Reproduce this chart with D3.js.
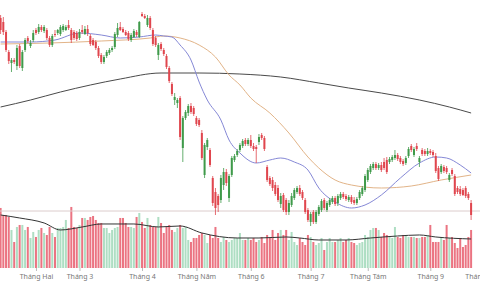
<!DOCTYPE html>
<html>
<head>
<meta charset="utf-8">
<script src="https://cdn.jsdelivr.net/npm/d3@7"></script>
<style>
  body { margin: 0; background: #fff; }
  svg { display: block; }
  .tick text { font-family: 'Noto Sans', Roboto, sans-serif; }
</style>
</head>
<body>
<svg></svg>
<script>
// candles, one per trading day (index 0 = first day shown)
let opens = [1524,1516,1496,1456,1434,1440,1428,1468,1424,1460,1484,1468,1480,1500,1496,1506,1498,1500,1484,1470,
  1492,1494,1492,1500,1500,1510,1500,1496,1494,1484,1500,1492,1502,1488,1480,1476,1464,1450,1436,1448,
  1454,1460,1466,1490,1506,1502,1496,1494,1480,1486,1496,1486,1532,1528,1510,1524,1500,1484,1450,1472,
  1460,1448,1424,1392,1360,1354,1364,1264,1324,1334,1348,1344,1324,1320,1294,1210,1266,1260,1204,1176,
  1168,1160,1190,1216,1164,1210,1240,1250,1260,1268,1280,1272,1280,1268,1266,1276,1290,1284,1226,1204,
  1200,1190,1184,1152,1170,1160,1136,1150,1164,1176,1184,1176,1160,1140,1116,1136,1116,1132,1140,1160,
  1140,1150,1156,1164,1154,1164,1172,1168,1160,1166,1160,1154,1164,1172,1180,1200,1216,1224,1232,1224,
  1230,1236,1240,1236,1240,1244,1250,1244,1238,1234,1248,1268,1250,1268,1236,1260,1258,1252,1258,1256,
  1248,1224,1216,1226,1224,1200,1220,1208,1184,1182,1180,1184,1172,1154]
let highs = [1530,1526,1500,1460,1444,1444,1470,1472,1460,1484,1488,1480,1500,1504,1512,1510,1510,1504,1488,1492,
  1500,1502,1510,1512,1510,1520,1504,1500,1498,1502,1510,1508,1510,1492,1484,1480,1468,1454,1450,1460,
  1464,1468,1496,1514,1516,1506,1500,1498,1494,1502,1500,1518,1536,1532,1530,1528,1504,1488,1474,1476,
  1464,1452,1428,1396,1374,1364,1368,1328,1340,1352,1354,1348,1328,1324,1300,1274,1284,1264,1208,1184,
  1172,1210,1224,1222,1212,1248,1252,1262,1274,1282,1284,1284,1290,1274,1270,1292,1294,1288,1230,1208,
  1206,1196,1190,1174,1174,1164,1160,1174,1184,1188,1190,1180,1164,1144,1136,1140,1140,1150,1162,1164,
  1158,1164,1168,1168,1172,1176,1176,1172,1170,1170,1166,1166,1180,1188,1212,1224,1232,1236,1236,1234,
  1236,1244,1246,1246,1250,1260,1254,1248,1242,1248,1266,1272,1266,1274,1248,1264,1262,1264,1262,1260,
  1254,1228,1232,1230,1228,1214,1224,1212,1188,1188,1184,1188,1176,1160]
let lows = [1492,1490,1456,1432,1416,1432,1420,1424,1418,1456,1474,1464,1476,1490,1492,1496,1494,1480,1466,1466,
  1486,1490,1488,1496,1498,1500,1474,1480,1478,1480,1492,1490,1488,1468,1468,1460,1444,1432,1432,1444,
  1450,1456,1462,1486,1498,1494,1488,1478,1476,1484,1486,1484,1526,1522,1506,1500,1468,1466,1440,1458,
  1448,1422,1394,1368,1350,1344,1280,1236,1320,1328,1332,1328,1308,1306,1240,1204,1260,1226,1148,1130,
  1136,1154,1180,1188,1156,1206,1236,1246,1256,1264,1268,1268,1264,1258,1234,1270,1280,1258,1196,1188,
  1178,1168,1156,1144,1136,1130,1130,1146,1160,1172,1168,1160,1132,1116,1108,1112,1112,1128,1136,1140,
  1136,1146,1152,1148,1148,1160,1162,1158,1156,1152,1150,1150,1160,1168,1176,1196,1212,1220,1220,1220,
  1216,1220,1212,1232,1236,1240,1238,1232,1228,1230,1244,1256,1246,1258,1226,1248,1248,1248,1250,1246,
  1214,1198,1212,1214,1212,1196,1208,1168,1172,1168,1168,1164,1160,1120]
let closes = [1500,1496,1460,1438,1440,1436,1464,1428,1456,1480,1478,1474,1494,1494,1506,1500,1506,1484,1470,1488,
  1490,1500,1506,1508,1506,1504,1480,1484,1482,1496,1496,1502,1494,1472,1470,1464,1448,1436,1446,1456,
  1460,1464,1492,1504,1500,1496,1490,1482,1490,1498,1490,1516,1528,1524,1524,1504,1472,1470,1470,1462,
  1452,1426,1398,1372,1366,1360,1286,1324,1336,1348,1336,1332,1312,1310,1244,1270,1280,1230,1154,1144,
  1150,1204,1216,1194,1208,1244,1248,1258,1270,1278,1272,1280,1268,1262,1262,1286,1284,1262,1200,1192,
  1184,1172,1160,1168,1140,1136,1154,1168,1180,1184,1172,1164,1136,1120,1132,1116,1136,1146,1158,1144,
  1154,1160,1164,1152,1168,1172,1166,1162,1166,1156,1154,1162,1176,1184,1208,1220,1228,1232,1224,1230,
  1220,1224,1216,1242,1246,1250,1242,1236,1232,1244,1262,1260,1262,1262,1244,1252,1252,1258,1254,1250,
  1218,1202,1228,1218,1216,1210,1212,1172,1176,1172,1170,1168,1164,1130]
// volume, million shares
let volumes = [900,795,795,765,570,390,615,645,645,570,615,450,540,465,570,600,525,495,615,525,
  465,600,600,615,720,600,915,615,600,645,750,750,720,765,780,720,675,675,600,600,
  525,570,600,615,750,750,675,615,615,600,765,825,690,600,750,645,615,615,765,675,
  525,615,645,570,540,600,645,600,615,420,390,450,450,495,525,495,375,495,450,615,
  450,390,465,420,390,420,450,450,525,420,420,450,420,450,390,420,465,375,495,450,
  570,420,525,570,495,570,420,540,390,345,450,390,345,495,465,390,345,375,450,270,
  390,450,390,390,420,450,390,420,450,390,375,345,375,390,495,465,570,600,600,570,
  465,525,495,465,450,615,465,450,495,495,465,465,465,450,450,465,465,495,645,390,
  390,390,465,420,645,450,465,375,300,450,315,345,465,570]

// moving averages as [day index, value]
let ma20 = [[0,1476],[11,1476],[20,1480],[29,1494],[37,1490],[44,1484],[51,1486],[57,1490],[60,1488],[63,1486],
  [66,1470],[70,1440],[73,1396],[76,1360],[81,1320],[84,1280],[88,1254],[94,1234],[99,1240],[103,1244],
  [108,1236],[113,1220],[117,1184],[123,1156],[129,1144],[134,1150],[140,1170],[147,1204],[154,1234],
  [160,1246],[164,1244],[169,1230],[173,1214]]
let ma50 = [[0,1472],[18,1474],[37,1478],[55,1484],[60,1488],[66,1484],[73,1470],[79,1446],[84,1410],[88,1390],
  [92,1364],[99,1334],[106,1294],[113,1246],[117,1224],[123,1200],[129,1190],[140,1184],[151,1188],[162,1200],[173,1210]]
let ma200 = [[0,1346],[11,1360],[22,1376],[33,1390],[44,1402],[59,1414],[73,1414],[88,1412],[103,1406],[117,1394],
  [128,1384],[140,1374],[154,1360],[165,1346],[173,1334]]
let volMa = [[0,795],[7,750],[16,675],[22,570],[30,615],[37,660],[49,660],[58,615],[66,630],[74,525],[87,450],
  [95,450],[105,465],[110,450],[117,420],[127,420],[136,450],[146,480],[154,495],[160,465],[173,435]]

let lastPrice = 1138

// month ticks: day index of first session + label
let monthIdx = [13,29,52,72,92,114,135,158,178]
let monthNames = ['Tháng Hai','Tháng 3','Tháng 4','Tháng Năm','Tháng 6','Tháng 7','Tháng Tám','Tháng 9','Tháng Mười']

let width = 480
let height = 288

let svg = d3.select('svg')
svg.attr('width', width).attr('height', height)

let n = closes.length
let xScale = d3.scaleLinear().domain([0, n - 1]).range([0.6, 471.1])
let yScale = d3.scaleLinear().domain([1060, 1560]).range([250, 0])
let vScale = d3.scaleLinear().domain([0, 1000]).range([268, 201.3])

let up = i => closes[i] >= opens[i]

// volume bars
svg.append('g')
  .selectAll('rect')
  .data(volumes)
  .enter()
  .append('rect')
  .attr('x', (d, i) => xScale(i) - 1)
  .attr('width', 2)
  .attr('y', d => vScale(d))
  .attr('height', d => vScale(0) - vScale(d))
  .attr('fill', (d, i) => up(i) ? 'rgba(120,200,155,0.6)' : 'rgba(232,92,108,0.85)')

svg.append('path')
  .datum(volMa)
  .attr('fill', 'none')
  .attr('stroke', '#333')
  .attr('stroke-width', 1)
  .attr('d', d3.line().x(d => xScale(d[0])).y(d => vScale(d[1])).curve(d3.curveMonotoneX))

// last price line
svg.append('line')
  .attr('x1', 0).attr('x2', width)
  .attr('y1', yScale(lastPrice)).attr('y2', yScale(lastPrice))
  .attr('stroke', '#dccccc')
  .attr('stroke-width', 1)

// moving averages
let maLine = d3.line().x(d => xScale(d[0])).y(d => yScale(d[1])).curve(d3.curveMonotoneX)
let mas = [[ma200, '#4a4a4a'], [ma50, '#e2b488'], [ma20, '#8588d6']]
mas.forEach(m => {
  svg.append('path')
    .datum(m[0])
    .attr('fill', 'none')
    .attr('stroke', m[1])
    .attr('stroke-width', 1)
    .attr('d', maLine)
})

// candles
let candles = svg.append('g')
  .selectAll('g')
  .data(closes)
  .enter()
  .append('g')

candles.append('line')
  .attr('x1', (d, i) => xScale(i)).attr('x2', (d, i) => xScale(i))
  .attr('y1', (d, i) => yScale(highs[i]))
  .attr('y2', (d, i) => yScale(lows[i]))
  .attr('stroke', (d, i) => up(i) ? '#3f9a4a' : '#e0464e')
  .attr('stroke-width', 0.8)

candles.append('rect')
  .attr('x', (d, i) => xScale(i) - 1)
  .attr('width', 2)
  .attr('y', (d, i) => yScale(Math.max(opens[i], closes[i])))
  .attr('height', (d, i) => Math.max(1, Math.abs(yScale(opens[i]) - yScale(closes[i]))))
  .attr('fill', (d, i) => up(i) ? '#3f9a4a' : '#e0464e')

// month axis
let xAxis = d3.axisBottom(xScale)
  .tickValues(monthIdx)
  .tickFormat((d, i) => monthNames[i])
  .tickSize(3)
  .tickPadding(3)

let axisG = svg.append('g')
  .attr('transform', 'translate(0,268)')
  .call(xAxis)
axisG.select('.domain').remove()
axisG.selectAll('line').attr('stroke', '#bbb')
axisG.selectAll('text').attr('fill', '#777').style('font-size', '7px')
</script>
</body>
</html>
